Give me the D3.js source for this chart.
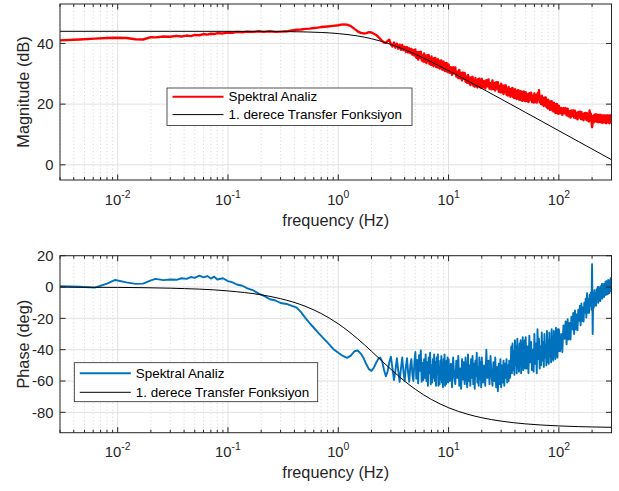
<!DOCTYPE html>
<html>
<head>
<meta charset="utf-8">
<script src="https://cdn.jsdelivr.net/npm/d3@7"></script>
<style>
  body { margin: 0; background: #fff; }
  svg { display: block; font-family: "Liberation Sans", Arial, Helvetica, sans-serif; }
</style>
</head>
<body>
<div id="chart"></div>
<script>
/// DATA ///
// measured spectrum (Spektral Analiz), read off the picture in sections
const freqA = [0.003, 0.0045, 0.0062, 0.008, 0.0095, 0.012, 0.0145, 0.017, 0.02, 0.022,
  0.026, 0.03, 0.034, 0.038, 0.042, 0.046, 0.05, 0.055, 0.06, 0.065,
  0.07, 0.075, 0.08, 0.09, 0.1, 0.11, 0.12, 0.135, 0.15, 0.17,
  0.19, 0.21, 0.24, 0.27, 0.3, 0.34, 0.38, 0.42, 0.46, 0.5,
  0.55, 0.6, 0.65, 0.7, 0.75, 0.8, 0.9, 1.0, 1.1, 1.2,
  1.3, 1.4, 1.5, 1.6, 1.7, 1.8, 1.9, 2.0, 2.1, 2.2,
  2.3, 2.4, 2.5, 2.6, 2.7, 2.8, 2.9];
const magA = [41.0, 41.3, 41.6, 41.8, 41.9, 41.8, 41.4, 41.3, 42.1, 42.0,
  42.3, 42.2, 42.5, 42.3, 42.6, 42.4, 42.8, 42.7, 43.1, 42.9,
  43.2, 43.1, 43.4, 43.3, 43.6, 43.5, 43.8, 43.7, 43.9, 43.8,
  44.0, 43.8, 44.0, 43.8, 43.9, 44.0, 44.3, 44.5, 44.6, 44.8,
  44.9, 45.1, 45.2, 45.4, 45.5, 45.6, 45.8, 46.0, 46.3, 46.2,
  45.7, 44.8, 44.0, 43.5, 43.3, 43.4, 43.7, 43.6, 43.2, 42.8,
  42.2, 41.5, 40.8, 40.3, 40.2, 40.8, 41.2];
const phaseA = [0.6, 0.2, -0.4, 2.2, 4.5, 3.0, 2.0, 2.2, 4.2, 5.2,
  4.4, 4.8, 4.6, 5.6, 5.2, 6.4, 5.8, 7.3, 6.2, 7.0,
  5.4, 6.6, 4.8, 5.6, 3.8, 3.0, 1.6, 0.8, -0.8, -2.2,
  -4.2, -5.5, -7.8, -8.6, -10.2, -10.8, -12.0, -13.2, -16.0, -19.5,
  -23.0, -26.0, -28.8, -31.2, -33.4, -35.5, -39.5, -42.0, -44.0, -45.2,
  -43.8, -41.0, -40.5, -42.5, -45.5, -49.5, -52.5, -53.5, -51.5, -48.5,
  -46.0, -45.0, -47.5, -53.0, -57.0, -54.0, -48.0];

const freqB = [3.0, 3.1, 3.2, 3.3, 3.4, 3.5, 3.6, 3.7, 3.8, 3.9,
  4.0, 4.1, 4.2, 4.3, 4.4, 4.5, 4.6, 4.7, 4.8, 4.9];
const magB = [39.8, 39.0, 40.3, 38.6, 39.9, 38.3, 39.6, 37.9, 39.5, 37.8,
  38.9, 37.2, 38.8, 37.0, 38.4, 36.8, 38.2, 36.3, 37.8, 36.0];
const phaseB = [-44.5, -52, -59.5, -53, -45.5, -53.5, -60.5, -52, -45, -54,
  -60, -51, -45.5, -55, -60.5, -50, -46, -56, -60, -48];

const freqC = [5.0, 5.1, 5.2, 5.3, 5.4, 5.5, 5.6, 5.7, 5.8, 5.9,
  6.0, 6.1, 6.2, 6.3, 6.4, 6.5, 6.6, 6.7, 6.8, 6.9,
  7.0, 7.1, 7.2, 7.3, 7.4, 7.5, 7.6, 7.7, 7.8, 7.9,
  8.0, 8.1, 8.2, 8.3, 8.4, 8.5, 8.6, 8.7, 8.8, 8.9,
  9.0, 9.1, 9.2, 9.3, 9.4, 9.5, 9.6, 9.7, 9.8, 9.9];
const magC = [38.0, 35.3, 37.1, 34.7, 37.2, 35.3, 37.3, 34.4, 36.0, 34.0,
  36.7, 34.0, 35.9, 33.5, 36.1, 34.2, 36.2, 33.3, 35.0, 33.0,
  35.7, 33.0, 34.9, 32.5, 35.1, 33.2, 35.2, 32.3, 34.1, 32.1,
  34.8, 32.1, 34.0, 31.7, 34.3, 32.4, 34.4, 31.5, 33.3, 31.3,
  34.0, 31.3, 33.2, 30.9, 33.5, 31.6, 33.6, 30.7, 32.5, 30.5];
const phaseC = [-41.5, -58.5, -46.5, -61.5, -43.5, -53.5, -40.5, -60.5, -48.5, -59.5,
  -46, -58, -43, -60, -48, -63, -45, -55, -42, -62,
  -50, -61, -46, -58, -43, -60, -48, -63, -45, -55,
  -43, -63, -51, -62, -47, -59, -44, -61, -49, -64,
  -46, -56, -43, -63, -51, -62, -47, -59, -45, -61];

const freqD = [10, 10.25, 10.5, 10.75, 11, 11.25, 11.5, 11.75, 12, 12.25,
  12.5, 12.75, 13, 13.25, 13.5, 13.75, 14, 14.25, 14.5, 14.75,
  15, 15.25, 15.5, 15.75, 16, 16.25, 16.5, 16.75, 17, 17.25,
  17.5, 17.75, 18, 18.25, 18.5, 18.75, 19, 19.25, 19.5, 19.75];
const magD = [33.1, 30.3, 32.2, 29.7, 32.2, 30.2, 32.1, 29.1, 30.7, 28.6,
  31.3, 28.5, 30.3, 27.8, 30.4, 28.4, 30.3, 27.4, 29.0, 27.0,
  29.6, 26.9, 28.7, 26.3, 28.8, 26.9, 29.0, 26.1, 27.8, 25.8,
  28.6, 25.9, 27.8, 25.5, 28.2, 26.3, 28.4, 25.6, 27.3, 25.4];
const phaseD = [-46, -60, -49, -64, -45, -57, -62, -47, -58, -44,
  -63, -52, -65, -46, -59, -48, -62, -45, -56, -64,
  -43, -60, -50, -63, -46, -58, -44, -62, -49, -65,
  -47, -57, -42, -61, -51, -63, -45, -59, -48, -64];

const freqE = [20, 20.5, 21, 21.5, 22, 22.5, 23, 23.5, 24, 24.5,
  25, 25.5, 26, 26.5, 27, 27.5, 28, 28.5, 29, 29.5,
  30, 30.5, 31, 31.5, 32, 32.5, 33, 33.5, 34, 34.5,
  35, 35.5, 36, 36.5, 37, 37.5, 38, 38.5, 39, 39.5,
  40, 40.5, 41, 41.5, 42, 42.5, 43, 43.5, 44, 44.5,
  45, 45.5, 46, 46.5, 47, 47.5, 48, 48.5, 49, 49.5];
const magE = [28.3, 25.5, 27.6, 25.1, 27.9, 25.9, 28.1, 25.1, 27.0, 24.9,
  27.8, 25.0, 27.0, 24.5, 27.2, 25.1, 27.2, 24.1, 26.0, 23.9,
  26.7, 23.9, 26.1, 23.3, 26.1, 24.0, 26.2, 23.1, 25.0, 22.8,
  25.7, 22.9, 24.9, 22.4, 25.1, 23.1, 25.3, 22.3, 24.2, 22.0,
  24.9, 22.1, 24.2, 21.7, 24.4, 22.4, 24.6, 21.5, 23.5, 21.4,
  24.3, 21.5, 23.6, 21.1, 24.0, 21.9, 24.2, 21.2, 23.1, 21.0];
const phaseE = [-45, -61, -50, -63, -40, -58, -47, -62, -44, -56,
  -63, -48, -60, -45, -64, -51, -66.5, -49, -62, -46,
  -64, -50, -61, -47, -63, -49, -58, -46, -61, -50,
  -60, -47, -58, -52, -38, -55, -36, -53, -41, -56,
  -34, -50, -38, -55, -33, -52, -40, -54, -36, -49,
  -34, -55, -39, -51, -32, -53, -37, -50, -34, -52];

const freqF = [50, 51, 52, 53, 54, 55, 56, 57, 58, 59,
  60, 61, 62, 63, 64, 65, 66, 67, 68, 69,
  70, 71, 72, 73, 74, 75, 76, 77, 78, 79,
  80, 81, 82, 83, 84, 85, 86, 87, 88, 89,
  90, 91, 92, 93, 94, 95, 96, 97, 98, 99];
const magF = [23.9, 21.1, 23.3, 20.7, 23.6, 21.5, 23.8, 20.7, 22.7, 20.5,
  23.5, 20.7, 22.9, 20.5, 23.5, 21.5, 24.6, 20.6, 22.3, 20.0,
  22.8, 19.9, 22.0, 19.4, 22.1, 20.0, 22.2, 19.1, 20.9, 18.6,
  21.5, 18.6, 20.8, 18.1, 20.9, 18.8, 21.0, 18.0, 19.8, 17.6,
  20.5, 17.6, 19.8, 17.1, 20.0, 17.9, 20.1, 17.0, 18.9, 16.8];
const phaseF = [-32, -52, -38, -55, -31, -48, -35, -53, -40, -54,
  -30, -49, -36, -55, -27, -46, -33, -52, -38, -50,
  -29, -47, -35, -51, -30, -45, -37, -50, -28, -48,
  -34, -49, -29, -44, -36, -48, -27, -46, -33, -47,
  -28, -43, -34, -46, -26, -42, -31, -45, -27, -41];

const freqG = [100, 102.5, 105, 107.5, 110, 112.5, 115, 117.5,
  120, 122.5, 125, 127.5, 130, 132.5, 135, 137.5,
  140, 142.5, 145, 147.5, 150, 152.5, 155, 157.5,
  160, 162.5, 165, 167.5, 170, 172.5, 175, 177.5,
  180, 182.5, 185, 187.5, 190, 192.5, 195, 197.5,
  200, 202.5, 205, 207.5, 210, 212.5, 215, 217.5,
  220, 222.5, 225, 227.5, 230, 232.5, 235, 237.5,
  240, 242.5, 245, 247.5, 250, 252.5, 255, 257.5,
  260, 262.5, 265, 267.5, 270, 272.5, 275, 277.5,
  280, 282.5, 285, 287.5, 290, 292.5, 295, 297.5, 300];
const magG = [19.5, 17.0, 18.7, 16.5, 18.7, 17.0, 18.7, 16.3,
  18.5, 16.0, 17.7, 15.6, 17.9, 16.2, 17.9, 15.6,
  17.8, 15.4, 17.1, 15.0, 17.4, 15.7, 17.5, 15.2,
  17.4, 15.0, 16.7, 14.7, 17.0, 15.4, 17.1, 14.8,
  17.0, 14.6, 16.4, 14.3, 17.9, 15.1, 16.8, 14.5,
  12.4, 14.3, 16.1, 14.0, 16.5, 14.8, 16.6, 14.3,
  16.6, 14.2, 16.0, 14.0, 16.4, 14.7, 16.4, 14.1,
  16.4, 14.0, 15.8, 13.8, 16.3, 14.5, 16.3, 14.0,
  16.3, 13.9, 15.7, 13.7, 16.3, 14.5, 16.3, 14.0,
  16.3, 13.9, 15.7, 13.7, 16.3, 14.5, 16.3, 14.0, 15.0];
const phaseG = [-27, -41, -30, -41.5, -24.5, -33, -22, -36.5,
  -20.5, -33.5, -23, -33.5, -19, -27, -16.5, -30,
  -15, -27, -17.5, -27.5, -14.5, -21.5, -12, -24.5,
  -10.5, -21.5, -13, -22, -10, -16.5, -7.5, -19.5,
  -4, -16.5, -8, -16.5, -5, -11.5, -3.5, -14.5,
  14.5, -30, -4, -13, -2, -11.5, -4, -12,
  -1.5, -7.5, 0, -10, 0, -8.5, -2, -9,
  0.5, -5, 1.9, -7.4, 2, -5.9, 0.2, -6.4,
  2.1, -2.7, 3.4, -5, 3.8, -4.1, 2, -4.6,
  4.5, -3.4, 2.7, -3.9, 4.4, -0.4, 5.7, -2.6, 3.5];

// 1. derece transfer fonksiyon (black curve)
const freqTF = [0.003, 0.01, 0.03, 0.1, 0.2, 0.3, 0.5, 0.7, 1, 1.5, 2, 3, 4, 5, 7,
  10, 15, 20, 30, 50, 70, 100, 150, 200, 300];
const magTF = [44.0, 44.0, 44.0, 43.99, 43.97, 43.93, 43.8, 43.62, 43.25, 42.46, 41.56,
  39.69, 37.96, 36.42, 33.89, 31.01, 27.61, 25.16, 21.67, 17.25, 14.33, 11.23,
  7.71, 5.21, 1.69];
const phaseTF = [-0.07, -0.25, -0.75, -2.49, -4.97, -7.43, -12.26, -16.93, -23.5, -33.1,
  -41.0, -52.5, -60.1, -65.3, -71.8, -77.05, -81.28, -83.44, -85.62, -87.37,
  -88.12, -88.68, -89.12, -89.34, -89.56];

// axes
const freqLimits = [0.003, 300];
const xTickValues = [0.01, 0.1, 1, 10, 100];
const magLimits = [-5, 53];
const magTicks = [0, 20, 40];
const phaseLimits = [-93, 20];
const phaseTicks = [-80, -60, -40, -20, 0, 20];
const legendLabels = ["Spektral Analiz", "1. derece Transfer Fonksiyon"];

const freq = [...freqA, ...freqB, ...freqC, ...freqD, ...freqE, ...freqF, ...freqG];
const magMeasured = [...magA, ...magB, ...magC, ...magD, ...magE, ...magF, ...magG];
const phaseMeasured = [...phaseA, ...phaseB, ...phaseC, ...phaseD, ...phaseE, ...phaseF, ...phaseG];

/// DRAWING ///
const axisColor = "#262626";
const svg = d3.select("#chart").append("svg").attr("width", 619).attr("height", 491);

const x = d3.scaleLog().domain(freqLimits).range([60, 611.5]);

// minor decade positions 2..9 x 10^n inside the limits
const minorTicks = [];
[-3, -2, -1, 0, 1, 2].forEach((e) => {
  for (let k = 2; k <= 9; k++) {
    const v = +(k * Math.pow(10, e)).toPrecision(3);
    if (v >= freqLimits[0] && v <= freqLimits[1]) minorTicks.push(v);
  }
});

function drawPanel(p, idx) {
  const y = d3.scaleLinear().domain(p.yDomain).range([p.bottom, p.top]);
  const g = svg.append("g");
  const [x0, x1] = x.range();

  // grid
  g.append("g").selectAll("line").data(minorTicks).join("line")
    .attr("x1", (d) => x(d)).attr("x2", (d) => x(d))
    .attr("y1", p.top).attr("y2", p.bottom)
    .attr("stroke", "#c4c4c4").attr("stroke-width", 0.7).attr("stroke-dasharray", "1,2.5");
  g.append("g").selectAll("line").data(xTickValues).join("line")
    .attr("x1", (d) => x(d)).attr("x2", (d) => x(d))
    .attr("y1", p.top).attr("y2", p.bottom)
    .attr("stroke", "#e1e1e1").attr("stroke-width", 1);
  g.append("g").selectAll("line").data(p.yTicks).join("line")
    .attr("x1", x0).attr("x2", x1)
    .attr("y1", (d) => y(d)).attr("y2", (d) => y(d))
    .attr("stroke", "#e1e1e1").attr("stroke-width", 1);

  // data lines
  const clipId = "clip" + idx;
  svg.append("clipPath").attr("id", clipId).append("rect")
    .attr("x", x0).attr("y", p.top).attr("width", x1 - x0).attr("height", p.bottom - p.top);
  const line = d3.line().x((d) => x(d[0])).y((d) => y(d[1]));
  const plot = g.append("g").attr("clip-path", `url(#${clipId})`);
  plot.append("path")
    .datum(freq.map((f, i) => [f, p.measured[i]]))
    .attr("fill", "none").attr("stroke", p.color).attr("stroke-width", p.width)
    .attr("stroke-linejoin", "round")
    .attr("d", line);
  plot.append("path")
    .datum(freqTF.map((f, i) => [f, p.tf[i]]))
    .attr("fill", "none").attr("stroke", "#000").attr("stroke-width", 1)
    .attr("d", line.curve(d3.curveMonotoneX));

  // box and ticks (inward, all sides)
  g.append("rect").attr("x", x0).attr("y", p.top).attr("width", x1 - x0).attr("height", p.bottom - p.top)
    .attr("fill", "none").attr("stroke", axisColor).attr("stroke-width", 1);
  const ticks = g.append("g").attr("stroke", axisColor).attr("stroke-width", 1);
  [[xTickValues, 5.5], [minorTicks, 3]].forEach(([vals, len]) => {
    ticks.append("g").selectAll("line").data(vals).join("line")
      .attr("x1", (d) => x(d)).attr("x2", (d) => x(d)).attr("y1", p.bottom).attr("y2", p.bottom - len);
    ticks.append("g").selectAll("line").data(vals).join("line")
      .attr("x1", (d) => x(d)).attr("x2", (d) => x(d)).attr("y1", p.top).attr("y2", p.top + len);
  });
  ticks.append("g").selectAll("line").data(p.yTicks).join("line")
    .attr("x1", x0).attr("x2", x0 + 5.5).attr("y1", (d) => y(d)).attr("y2", (d) => y(d));
  ticks.append("g").selectAll("line").data(p.yTicks).join("line")
    .attr("x1", x1).attr("x2", x1 - 5.5).attr("y1", (d) => y(d)).attr("y2", (d) => y(d));

  // tick labels
  g.append("g").selectAll("text").data(p.yTicks).join("text")
    .attr("x", 53.5).attr("y", (d) => y(d)).attr("dy", "0.35em")
    .attr("text-anchor", "end").attr("font-size", 14.8).attr("fill", axisColor)
    .text((d) => d);
  g.append("g").selectAll("text").data(xTickValues).join("text")
    .attr("x", (d) => x(d)).attr("y", p.bottom + 24.5)
    .attr("text-anchor", "middle").attr("font-size", 14.8).attr("fill", axisColor)
    .each(function (d) {
      const t = d3.select(this);
      t.append("tspan").text("10");
      t.append("tspan").attr("dy", -7).attr("font-size", 10.4).text(Math.round(Math.log10(d)));
    });

  // axis labels
  g.append("text").attr("x", (x0 + x1) / 2).attr("y", p.bottom + 45.5)
    .attr("text-anchor", "middle").attr("font-size", 16.3).attr("fill", axisColor)
    .text("frequency (Hz)");
  g.append("text")
    .attr("transform", `translate(29,${(p.top + p.bottom) / 2}) rotate(-90)`)
    .attr("text-anchor", "middle").attr("font-size", 16.3).attr("fill", axisColor)
    .text(p.label);

  // legend
  const lg = g.append("g").attr("transform", `translate(${p.legend.x},${p.legend.y})`);
  lg.append("rect").attr("width", p.legend.w).attr("height", p.legend.h)
    .attr("fill", "#fff").attr("stroke", axisColor).attr("stroke-width", 0.8);
  const rows = [
    { label: legendLabels[0], color: p.color, width: 2 },
    { label: legendLabels[1], color: "#000", width: 1 },
  ];
  rows.forEach((r, i) => {
    const ry = p.legend.rows[i];
    lg.append("line").attr("x1", 5.5).attr("x2", 56.5).attr("y1", ry).attr("y2", ry)
      .attr("stroke", r.color).attr("stroke-width", r.width);
    lg.append("text").attr("x", 61.5).attr("y", ry).attr("dy", "0.35em")
      .attr("font-size", 13.4).attr("fill", "#000").text(r.label);
  });
}

drawPanel({
  top: 4, bottom: 180, yDomain: magLimits, yTicks: magTicks,
  label: "Magnitude (dB)", measured: magMeasured, tf: magTF,
  color: "#ff0000", width: 2.4,
  legend: { x: 167, y: 88, w: 245, h: 37.5, rows: [8.8, 26.6] },
}, 1);

drawPanel({
  top: 255.7, bottom: 432.7, yDomain: phaseLimits, yTicks: phaseTicks,
  label: "Phase (deg)", measured: phaseMeasured, tf: phaseTF,
  color: "#0072bd", width: 1.9,
  legend: { x: 74.3, y: 362.7, w: 243.4, h: 39, rows: [10.6, 29.6] },
}, 2);
</script>
</body>
</html>
